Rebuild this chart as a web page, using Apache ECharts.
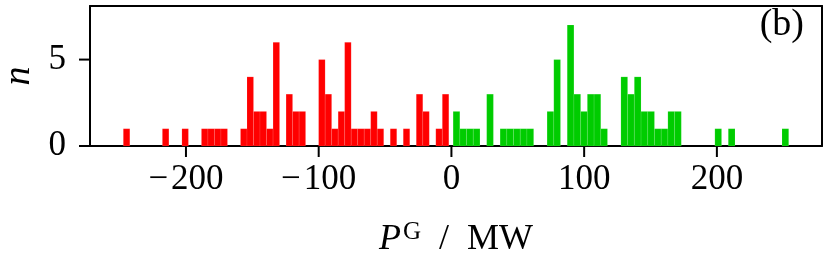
<!DOCTYPE html>
<html>
<head>
<meta charset="utf-8">
<script src="https://cdn.jsdelivr.net/npm/echarts@6/dist/echarts.min.js"></script>
<style>html,body{margin:0;padding:0;background:#fff}#c{width:830px;height:261px}</style>
</head>
<body>
<div id="c"></div>
<script>
// Histogram of negative generation (red), 50 bins
const redMin = -247.2, redMax = -1.96;
const redCounts = [1,0,0,0,0,0,1,0,0,1, 0,0,1,1,1,1,0,0,1,4, 2,2,1,6,0,3,2,2,0,0, 5,3,1,2,6,1,1,1,2,1, 0,1,0,1,0,3,2,0,1,3];
// Histogram of positive generation (green), 50 bins
const greenMin = 1.28, greenMax = 254.1;
const greenCounts = [2,1,1,1,0,3,0,1,1,1, 1,1,0,0,2,5,0,7,3,2, 3,3,1,0,0,4,3,4,2,2, 1,1,2,2,0,0,0,0,0,1, 0,1,0,0,0,0,0,0,0,1];
const xTicks = [-200, -100, 0, 100, 200];
const yTicks = [0, 5];
const xRange = [-272.3, 279.2];
const yRange = [0, 8.1];

function bins(min, max, counts) {
  const w = (max - min) / counts.length;
  return counts.map((c, i) => [min + i * w, min + (i + 1) * w, c]).filter(d => d[2] > 0);
}
function isTick(list, v) { return list.some(t => Math.abs(t - v) < 1e-6); }

const FONT = '"Liberation Serif", "DejaVu Serif", serif';
const TICK_LEN = 11;
const AXIS_LINE = { show: true, onZero: false, lineStyle: { color: '#000', width: 2 } };

function renderBar(params, api) {
  const p0 = api.coord([api.value(0), 0]);
  const p1 = api.coord([api.value(1), api.value(2)]);
  return {
    type: 'rect',
    shape: { x: p0[0], y: p1[1], width: p1[0] - p0[0], height: p0[1] - p1[1] },
    style: { fill: api.visual('color'), stroke: 'rgba(255,255,255,0.2)', lineWidth: 0.5 }
  };
}

const chart = echarts.init(document.getElementById('c'), null, { renderer: 'canvas' });
chart.setOption({
  animation: false,
  grid: { left: 90, right: 8, top: 6, bottom: 115, outerBoundsMode: 'none' },
  xAxis: [{
    type: 'value', min: xRange[0], max: xRange[1], position: 'bottom',
    splitLine: { show: false },
    axisLine: { show: true, lineStyle: { color: '#000', width: 2 } },
    axisTick: { show: false },
    axisLabel: { showMinLabel: false, showMaxLabel: false, margin: 16, color: '#000', fontFamily: FONT, fontSize: 35,
      formatter: v => (!isTick(xTicks, v) ? '' : (v < 0 ? '\u2212\u200a' + Math.abs(v) : String(v))) },
    name: '{i|P}{s|G}{n|  /  MW}',
    nameLocation: 'middle', nameGap: 74,
    nameTextStyle: {
      rich: {
        i: { fontFamily: FONT, fontStyle: 'italic', fontSize: 36, color: '#000' },
        s: { fontFamily: FONT, fontSize: 25, color: '#000', verticalAlign: 'top', padding: [0, 0, 14, 2] },
        n: { fontFamily: FONT, fontSize: 36, color: '#000' }
      }
    }
  }, {
    type: 'value', min: xRange[0], max: xRange[1], position: 'top',
    splitLine: { show: false }, axisLine: AXIS_LINE, axisTick: { show: false }, axisLabel: { show: false }
  }],
  yAxis: [{
    type: 'value', min: yRange[0], max: yRange[1], interval: 5, position: 'left',
    splitLine: { show: false },
    axisLine: AXIS_LINE,
    axisTick: { show: false },
    axisLabel: { showMaxLabel: false, margin: 24, color: '#000', fontFamily: FONT, fontSize: 35,
      formatter: v => (isTick(yTicks, v) ? String(v) : '') },
    name: 'n', nameLocation: 'middle', nameGap: 52, nameRotate: 90,
    nameTextStyle: { fontFamily: FONT, fontStyle: 'italic', fontSize: 38, color: '#000' }
  }, {
    type: 'value', min: yRange[0], max: yRange[1], interval: 5, position: 'right',
    splitLine: { show: false }, axisLine: AXIS_LINE, axisTick: { show: false }, axisLabel: { show: false }
  }],
  series: [
    { type: 'custom', name: 'neg', renderItem: renderBar, itemStyle: { color: '#ff0000' },
      encode: { x: [0, 1], y: 2 }, data: bins(redMin, redMax, redCounts) },
    { type: 'custom', name: 'pos', renderItem: renderBar, itemStyle: { color: '#00cc00' },
      encode: { x: [0, 1], y: 2 }, data: bins(greenMin, greenMax, greenCounts) }
  ]
});

// Tick marks placed through the axis scales (convertToPixel)
const els = [];
xTicks.forEach(v => {
  const p = chart.convertToPixel({ xAxisIndex: 0, yAxisIndex: 0 }, [v, yRange[0]]);
  els.push({ type: 'rect', shape: { x: p[0] - 1, y: p[1], width: 2, height: TICK_LEN }, style: { fill: '#000' } });
});
yTicks.forEach(v => {
  const p = chart.convertToPixel({ xAxisIndex: 0, yAxisIndex: 0 }, [xRange[0], v]);
  els.push({ type: 'rect', shape: { x: p[0] - TICK_LEN, y: p[1] - 1, width: TICK_LEN, height: 2 }, style: { fill: '#000' } });
});
els.push({ type: 'text', right: 26, top: 6, style: { text: '(b)', font: '38px ' + FONT, fill: '#000' } });
chart.setOption({ graphic: els });
</script>
</body>
</html>
